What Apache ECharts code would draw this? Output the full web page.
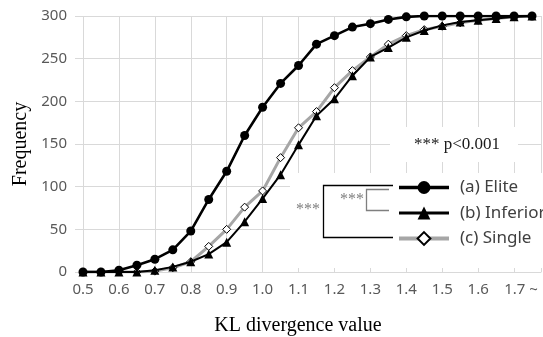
<!DOCTYPE html>
<html><head><meta charset="utf-8">
<script src="https://cdn.jsdelivr.net/npm/echarts@6/dist/echarts.min.js"></script>
<style>html,body{margin:0;padding:0;background:#fff}#c{width:543px;height:337px}</style>
</head><body><div id="c"></div>
<script>
const xValues = [0.5,0.55,0.6,0.65,0.7,0.75,0.8,0.85,0.9,0.95,1.0,1.05,1.1,1.15,1.2,1.25,1.3,1.35,1.4,1.45,1.5,1.55,1.6,1.65,1.7,1.75];
const elite    = [0,0,2,8,15,26,48,85,118,160,193,221,242,267,277,287,291,296,299,300,300,300,300,300,300,300];
const inferior = [0,0,0,0,2,6,12,21,35,59,86,114,149,183,203,230,252,263,275,283,289,293,295,297,299,300];
const single   = [0,0,0,0,1,5,12,30,50,76,95,134,169,188,216,236,252,267,277,284,288,292,295,297,299,300];
const seriesNames = ['(a) Elite','(b) Inferior','(c) Single'];
const yTicks = {min:0, max:300, interval:50};
const xTicks = {min:0.5, max:1.775, interval:0.1, lastLabel:1.7};

const pair = arr => xValues.map((x,i)=>[x,arr[i]]);
const chart = echarts.init(document.getElementById('c'));
const serif = 'Liberation Serif';
const sans = 'Noto Sans';
chart.setOption({
  animation:false,
  backgroundColor:'#fff',
  grid:{left:83,right:2,top:16,bottom:65,containLabel:false,outerBoundsMode:'none'},
  xAxis:{type:'value',min:xTicks.min,max:xTicks.max,interval:xTicks.interval,
    axisLine:{show:true,lineStyle:{color:'#d9d9d9',width:1}},
    axisTick:{show:false},
    splitLine:{show:true,lineStyle:{color:'#d9d9d9',width:1}},
    axisLabel:{margin:10,color:'#595959',fontFamily:sans,fontSize:15,showMaxLabel:false,
      formatter:v=>{ if(v>xTicks.lastLabel+0.01) return ''; if(Math.abs(v-xTicks.lastLabel)<0.001) return '{p|'+v.toFixed(1)+' ~}'; return v.toFixed(1);},
      rich:{p:{color:'#595959',fontFamily:sans,fontSize:15,padding:[0,0,0,14]}}},
    name:'KL divergence value',nameLocation:'middle',nameGap:44,
    nameTextStyle:{fontFamily:serif,fontSize:20,color:'#000',padding:[0,28,0,0]}},
  yAxis:{type:'value',min:yTicks.min,max:yTicks.max,interval:yTicks.interval,
    axisLine:{show:false},
    axisTick:{show:true,length:8,lineStyle:{color:'#d9d9d9',width:1}},
    splitLine:{show:true,lineStyle:{color:'#d9d9d9',width:1}},
    axisLabel:{margin:16,color:'#595959',fontFamily:sans,fontSize:15},
    name:'Frequency',nameLocation:'middle',nameGap:52,nameRotate:90,
    nameTextStyle:{fontFamily:serif,fontSize:20,color:'#000'}},
  legend:{orient:'vertical',left:397,top:179,padding:0,itemWidth:50,itemHeight:16,itemGap:8.5,
    textStyle:{fontFamily:sans,fontSize:17,color:'#404040',padding:[0,0,0,6]},
    data:[{name:seriesNames[0],lineStyle:{width:3.5}},{name:seriesNames[1],lineStyle:{width:3}},{name:seriesNames[2],lineStyle:{width:4}}]},
  graphic:[
    {type:'rect',z:1,shape:{x:290,y:173,width:253,height:95},style:{fill:'#fff'}},
    {type:'rect',z:1,shape:{x:390,y:127,width:128,height:35},style:{fill:'#fff'}},
    {type:'text',z:10,x:457,y:145,style:{text:'*** p<0.001',font:'17px "Liberation Serif"',fill:'#1a1a1a',align:'center',verticalAlign:'middle'}},
    {type:'polyline',z:10,shape:{points:[[393,185.5],[323.5,185.5],[323.5,237.5],[393,237.5]]},style:{stroke:'#000',lineWidth:1.3,fill:null}},
    {type:'polyline',z:10,shape:{points:[[389,189.5],[366.5,189.5],[366.5,210.5],[389,210.5]]},style:{stroke:'#7f7f7f',lineWidth:1.3,fill:null}},
    {type:'text',z:10,x:308,y:210,style:{text:'***',font:'16px "Liberation Serif"',fill:'#7f7f7f',align:'center',verticalAlign:'middle'}},
    {type:'text',z:10,x:352,y:200,style:{text:'***',font:'16px "Liberation Serif"',fill:'#7f7f7f',align:'center',verticalAlign:'middle'}}
  ],
  series:[
    {name:seriesNames[2],type:'line',data:pair(single),z:3,symbol:'diamond',symbolSize:8,
      lineStyle:{color:'#a6a6a6',width:3},itemStyle:{color:'#fff',borderColor:'#000',borderWidth:1}},
    {name:seriesNames[1],type:'line',data:pair(inferior),z:4,symbol:'triangle',symbolSize:9,
      lineStyle:{color:'#000',width:2},itemStyle:{color:'#000'}},
    {name:seriesNames[0],type:'line',data:pair(elite),z:5,symbol:'circle',symbolSize:9,
      lineStyle:{color:'#000',width:2.6},itemStyle:{color:'#000'}}
  ]
});
</script></body></html>
